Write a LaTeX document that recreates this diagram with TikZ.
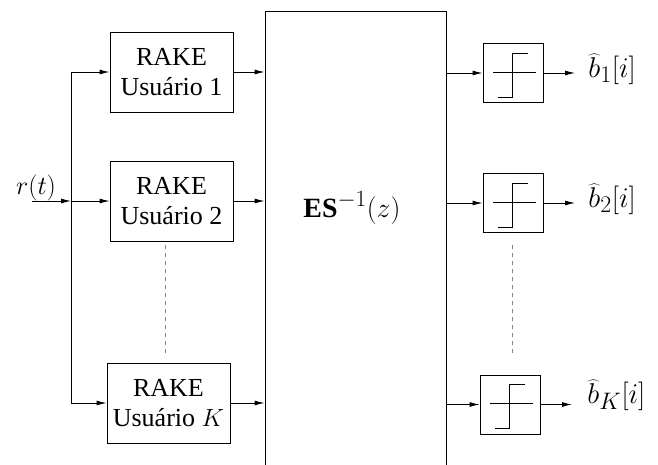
\documentclass[tikz,border=0pt]{standalone}
\usepackage{graphicx}
\usepackage{fontspec}
\setmainfont{Liberation Serif}
\usetikzlibrary{arrows.meta,calc}
\begin{document}
\begin{tikzpicture}[x=1pt,y=-1pt,
  line width=0.9pt,
  every node/.style={font=\fontsize{24.88}{30}\selectfont},
  arr/.style={-{Latex[length=10pt,width=5pt]}},
  rakebox/.style={draw,minimum width=123pt,minimum height=80pt,inner sep=0pt,align=center,font=\fontsize{26}{30}\selectfont},
  cmpbox/.style={draw,minimum width=60pt,minimum height=59pt,inner sep=0pt,
    path picture={
      \draw ([shift={(-20,-1)}]path picture bounding box.center) -- ([shift={(23,-1)}]path picture bounding box.center);
      \draw ([shift={(15,-20)}]path picture bounding box.center) -- ([shift={(-1,-20)}]path picture bounding box.center)
         -- ([shift={(-1,24)}]path picture bounding box.center) -- ([shift={(-15,24)}]path picture bounding box.center);
    }},
  outlabel/.style={anchor=base west,inner sep=0pt},
  dots/.style={gray,dash pattern=on 4pt off 4pt,line width=0.8pt}
]
\useasboundingbox (0,0) rectangle (658,464);
\clip (0,0) rectangle (658,464);

% big block
\node[draw,minimum width=181pt,minimum height=480pt,inner sep=0pt] (es) at (355.5,251) {};
\node (esl) at (352,208) {\scalebox{1.12}{\textbf{ES}$^{-1}(z)$}};

% RAKE blocks
\node[rakebox] (rake1) at (171.5,72) {RAKE\\Usuário 1};
\node[rakebox] (rake2) at (171.5,201) {RAKE\\Usuário 2};
\node[rakebox] (rakeK) at (168.5,403) {RAKE\\Usuário $K$};

% input bus
\coordinate (bus1) at (71,72);
\coordinate (bus2) at (71,201);
\coordinate (busK) at (71,403);
\coordinate (rin) at (32,201);
\node (rt) at (36,188) {\scalebox{1.05}{$r(t)$}};
\draw (bus1) -- (busK);
\draw[arr] (rin) -- (bus2);
\draw[arr] (bus1) -- (rake1);
\draw[arr] (bus2) -- (rake2);
\draw[arr] (busK) -- (rakeK);

% RAKE -> big block
\draw[arr] (rake1.east) -- (rake1.east -| es.west);
\draw[arr] (rake2.east) -- (rake2.east -| es.west);
\draw[arr] (rakeK.east) -- (rakeK.east -| es.west);

% comparators
\node[cmpbox] (cmp1) at (513,73) {};
\node[cmpbox] (cmp2) at (513,203) {};
\node[cmpbox] (cmpK) at (510,404.5) {};
\draw[arr] (es.east |- cmp1.west) -- (cmp1.west);
\draw[arr] (es.east |- cmp2.west) -- (cmp2.west);
\draw[arr] (es.east |- cmpK.west) -- (cmpK.west);

\coordinate (o1) at (575,73);
\coordinate (o2) at (575,203);
\coordinate (oK) at (572,404.5);
\draw[arr] (cmp1.east) -- (o1);
\draw[arr] (cmp2.east) -- (o2);
\draw[arr] (cmpK.east) -- (oK);

\node[outlabel] (b1) at (588,77) {\scalebox{1.15}{$\widehat{b}_1[i]$}};
\node[outlabel] (b2) at (588,207) {\scalebox{1.15}{$\widehat{b}_2[i]$}};
\node[outlabel] (bK) at (587,403) {\scalebox{1.15}{$\widehat{b}_K[i]$}};

% dashed continuation
\coordinate (dl1) at (165,245);
\coordinate (dl2) at (165,356);
\coordinate (dr1) at (512,245);
\coordinate (dr2) at (512,356);
\draw[dots] (dl1) -- (dl2);
\draw[dots] (dr1) -- (dr2);
\end{tikzpicture}
\end{document}
